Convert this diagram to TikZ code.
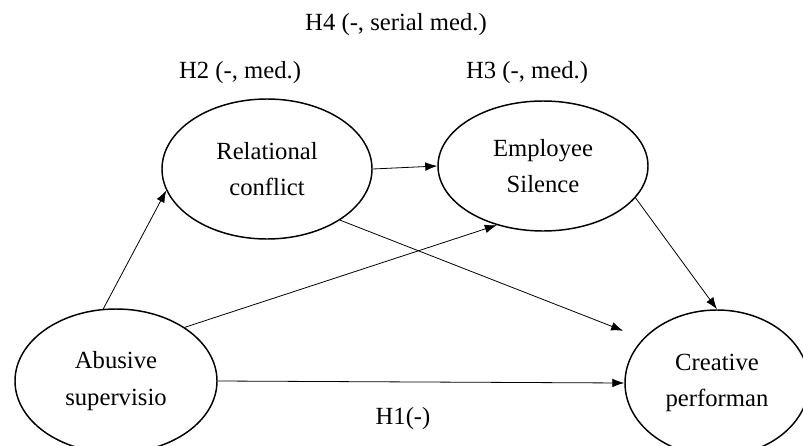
\documentclass[tikz,border=0pt]{standalone}
\usepackage{fontspec}
\setmainfont{Liberation Serif}
\usetikzlibrary{shapes.geometric,arrows.meta}

\begin{document}
\begin{tikzpicture}[x=0.75pt,y=-0.75pt]
  \tikzset{construct/.style = {draw,ellipse,line width=1.1pt,inner sep=0pt,align=center,font=\fontsize{18.5}{27.5}\selectfont}}
  \tikzset{path/.style = {-{Latex[length=9pt,width=6.5pt]}, line width=0.6pt}}
  \tikzset{hyp/.style = {font=\fontsize{18.5}{20}\selectfont}}

\useasboundingbox (0,0) rectangle (803,446);

\node[construct,minimum width=151.5pt,minimum height=108pt] (abuse)  at (116,381) {Abusive\\supervisio};
\node[construct,minimum width=157.5pt,minimum height=105pt] (rel)  at (267,169) {Relational\\conflict};
\node[construct,minimum width=157.5pt,minimum height=97.5pt] (silence)  at (543,166) {Employee\\Silence};
\node[construct,minimum width=138pt,minimum height=109.5pt] (creative)  at (717,383) {Creative\\performan};

\node[hyp] (h4) at (396,25) {H4 (-, serial med.)};
\node[hyp] (h2) at (240,73) {H2 (-, med.)};
\node[hyp] (h3) at (527,73) {H3 (-, med.)};
\node[hyp] (h1) at (403,419) {H1(-)};

    \path[path] (abuse.east) edge (creative.west);
    \path[path] (abuse.100) edge (rel.192);
    \path[path] (abuse.38) edge (silence.232);
    \path[path] (rel.east) edge (silence.west);
    \path[path] (rel.-35) edge[shorten >=16pt] (creative.149);
    \path[path] (silence.-19) edge (creative.90);
%    \path[path] (rel) edge (creative);

\end{tikzpicture}
\end{document}
